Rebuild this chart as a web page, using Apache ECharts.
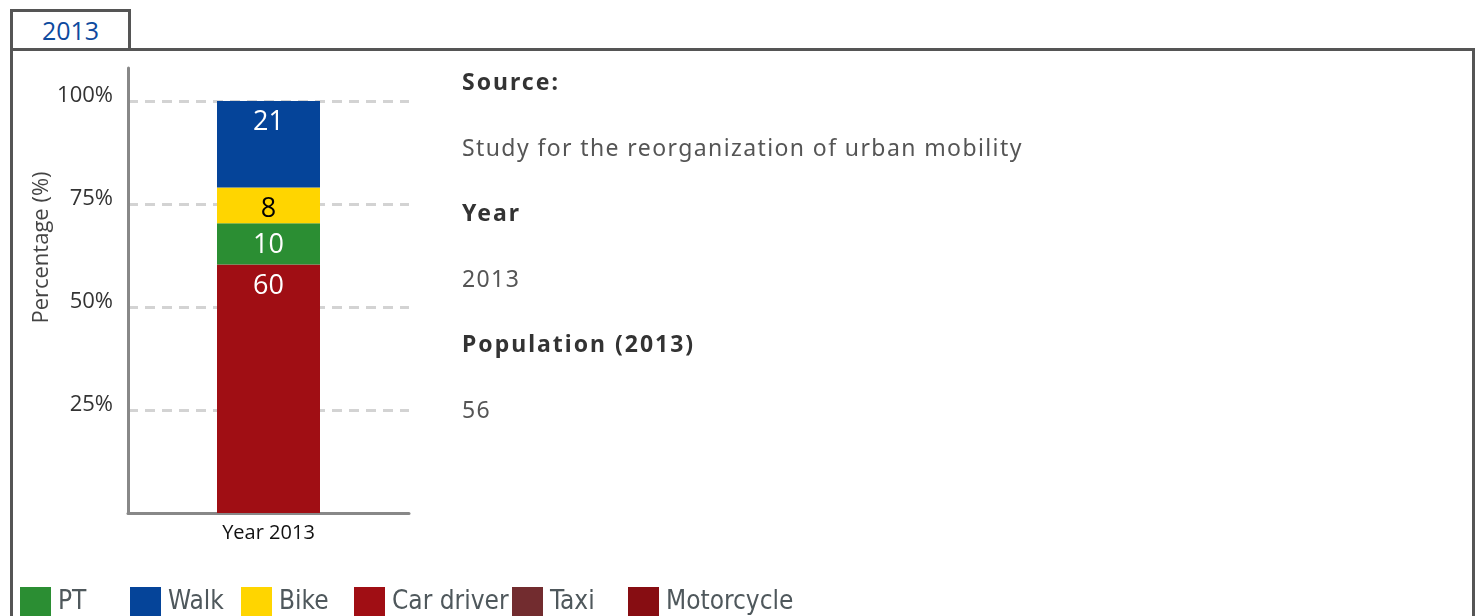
<!DOCTYPE html>
<html>
<head>
<meta charset="utf-8">
<title>Modal split 2013</title>
<script src="https://cdn.jsdelivr.net/npm/echarts@6/dist/echarts.min.js"></script>
<style>
  html, body { margin: 0; padding: 0; width: 1479px; height: 616px; overflow: hidden; background: #fff; }
  .tab {
    position: absolute; left: 10px; top: 9px; width: 115px; height: 39px;
    border: 3px solid #555; border-bottom: none;
    color: #0d4a9e; font: 25px "Open Sans", sans-serif; text-align: center; line-height: 37px;
  }
  .panel {
    position: absolute; left: 10px; top: 48px; width: 1459px; height: 600px;
    border: 3px solid #555; border-bottom: none;
  }
  #chart { position: absolute; left: 0; top: 0; width: 1479px; height: 616px; }
  .info { position: absolute; left: 462px; top: 49px; font-family: "Noto Sans", sans-serif; }
  .info div { height: 65.6px; line-height: 65.6px; font-size: 23px; white-space: nowrap; }
  .info .head { font-weight: bold; color: #333; letter-spacing: 2px; }
  .info .val { color: #555; letter-spacing: 1.4px; }
</style>
</head>
<body>
<div class="tab">2013</div>
<div class="panel"></div>
<div id="chart"></div>
<div class="info">
  <div class="head">Source:</div>
  <div class="val">Study for the reorganization of urban mobility</div>
  <div class="head">Year</div>
  <div class="val">2013</div>
  <div class="head">Population (2013)</div>
  <div class="val">56</div>
</div>
<script>
// values (percent of trips)
var categories = ["Year 2013"];
var carDriver = [60.3];
var pt = [10];
var bike = [8.7];
var walk = [21];
var taxi = [null];
var motorcycle = [null];
var legendNames = ["PT", "Walk", "Bike", "Car driver", "Taxi", "Motorcycle"];

var chart = echarts.init(document.getElementById("chart"));

function seg(name, data, color, labelColor) {
  return {
    name: name,
    type: "bar",
    stack: "total",
    barWidth: 103,
    data: data,
    itemStyle: { color: color },
    label: {
      show: true,
      position: "insideTop",
      distance: 8,
      color: labelColor,
      fontSize: 27,
      fontFamily: "Open Sans",
      formatter: function (p) { return Math.floor(p.value); }
    }
  };
}

// the original legend puts its entries on fixed slots, so one legend per entry
var legendLeft = [20, 130, 241, 354, 512, 628];
var legends = legendNames.map(function (name, i) {
  return {
    data: [name],
    left: legendLeft[i],
    top: 587,
    padding: 0,
    itemWidth: 31,
    itemHeight: 31,
    icon: "rect",
    selectedMode: false,
    textStyle: { fontFamily: "DejaVu Sans Condensed", fontSize: 26, color: "#4f585c", padding: [0, 0, 0, 2] }
  };
});

chart.setOption({
  animation: false,
  grid: { left: 128, right: 1070, top: 68, bottom: 103 },
  legend: legends,
  xAxis: {
    type: "category",
    data: categories,
    axisLine: { lineStyle: { color: "#888", width: 3 } },
    axisTick: { show: false },
    axisLabel: { color: "#111", fontSize: 20, fontFamily: "Open Sans", margin: 10 }
  },
  yAxis: {
    type: "value",
    min: 0,
    max: 108,
    interval: 25,
    name: "Percentage (%)",
    nameLocation: "middle",
    nameGap: 75,
    nameTextStyle: { color: "#444", fontSize: 22, fontFamily: "Open Sans", padding: [0, 0, 0, 86] },
    axisLine: { show: true, lineStyle: { color: "#888", width: 3 } },
    axisTick: { show: false },
    axisLabel: {
      showMaxLabel: false,
      showMinLabel: false,
      color: "#333",
      fontSize: 22,
      fontFamily: "Open Sans",
      margin: 15,
      verticalAlign: "bottom",
      lineHeight: 10,
      formatter: "{value}%"
    },
    splitLine: {
      show: true,
      showMinLine: false,
      showMaxLine: false,
      lineStyle: { color: "#d3d3d3", width: 3, type: [10, 7] }
    }
  },
  series: [
    seg("Car driver", carDriver, "#a00e14", "#fff"),
    seg("PT", pt, "#2b8e33", "#fff"),
    seg("Bike", bike, "#ffd500", "#000"),
    seg("Walk", walk, "#054499", "#fff"),
    seg("Taxi", taxi, "#722c2f", "#fff"),
    seg("Motorcycle", motorcycle, "#870d12", "#fff")
  ]
});
</script>
</body>
</html>
